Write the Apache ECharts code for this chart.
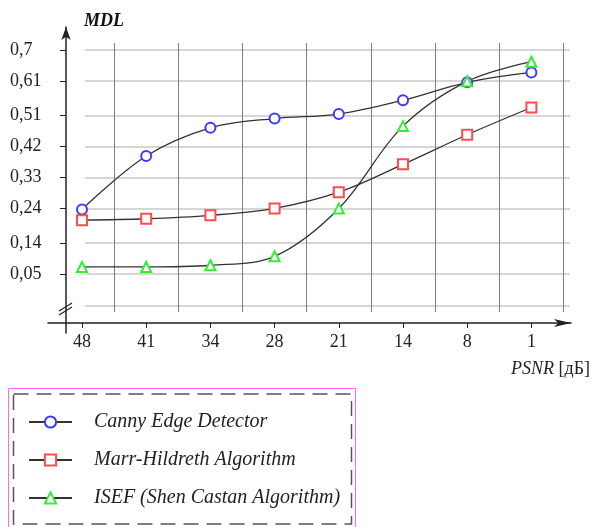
<!DOCTYPE html>
<html>
<head>
<meta charset="utf-8">
<script src="https://cdn.jsdelivr.net/npm/echarts@6/dist/echarts.min.js"></script>
<style>html,body{margin:0;padding:0;background:#fff;}#c{width:593px;height:527px;}</style>
</head>
<body>
<div id="c"></div>
<script>
// ---- data ----
const categories = ['48', '41', '34', '28', '21', '14', '8', '1'];
const yTickLabels = ['0,05', '0,14', '0,24', '0,33', '0,42', '0,51', '0,61', '0,7'];
const yExtraGrid = -0.043; // unlabeled grid line below 0,05 (broken axis)
const canny = [0.237, 0.392, 0.474, 0.501, 0.514, 0.554, 0.606, 0.635];
const marr  = [0.206, 0.210, 0.220, 0.240, 0.287, 0.368, 0.454, 0.533];
const isef  = [0.070, 0.070, 0.075, 0.101, 0.240, 0.479, 0.609, 0.666];
const seriesNames = ['Canny Edge Detector', 'Marr-Hildreth Algorithm', 'ISEF (Shen Castan Algorithm)'];
const xName = 'PSNR';
const xUnit = '[дБ]';
const yName = 'MDL';

// ---- layout helpers (pixel <-> value mapping) ----
const Y_REF_VAL = 0.7, Y_REF_PX = 50, PX_PER_UNIT = 344.4;
const X0_PX = 82, X_STEP = 64.2;
const valAt = px => Y_REF_VAL - (px - Y_REF_PX) / PX_PER_UNIT;
const idxAt = px => (px - X0_PX) / X_STEP;

const yTickVals = yTickLabels.map(s => parseFloat(s.replace(',', '.')));
const xIdx = categories.map((_, i) => i);
const xBounds = categories.map((_, i) => i + 0.5);
const FONT = 'Liberation Serif, Times New Roman, serif';

// data grid
const G0 = {left: 48, right: 571, top: 27, bottom: 333};
// grid-lines grid
const G1 = {left: 85, right: 570, top: 43, bottom: 312};

const toPairs = arr => arr.map((v, i) => [i, v]);

const chart = echarts.init(document.getElementById('c'), null, {renderer: 'canvas'});
const lineCol = '#333';
const mk = (name, data, symbol, color) => ({
  name, type: 'line', data: toPairs(data), xAxisIndex: 0, yAxisIndex: 0,
  smooth: 0.35, symbol, symbolSize: 10,
  lineStyle: {color: lineCol, width: 1.3},
  itemStyle: {color: color, borderColor: color, borderWidth: 1.5},
  emphasis: {disabled: true}, z: 3
});

chart.setOption({
  animation: false,
  backgroundColor: '#fff',
  textStyle: {fontFamily: FONT},
  grid: [
    {left: G0.left, top: G0.top, width: G0.right - G0.left, height: G0.bottom - G0.top, containLabel: false, outerBoundsMode: 'none'},
    {left: G1.left, top: G1.top, width: G1.right - G1.left, height: G1.bottom - G1.top, containLabel: false, outerBoundsMode: 'none'}
  ],
  xAxis: [
    {
      type: 'value', gridIndex: 0, min: idxAt(G0.left), max: idxAt(G0.right), offset: -10,
      axisLine: {show: true, onZero: false, lineStyle: {color: '#222', width: 1.5}, symbol: ['none', 'arrow'], symbolSize: [6, 17]},
      axisTick: {show: true, customValues: xIdx, length: 5, lineStyle: {color: '#222', width: 1}},
      axisLabel: {show: true, customValues: xIdx, margin: 10, color: '#222', fontSize: 18, fontFamily: FONT,
        formatter: v => categories[Math.round(v)]},
      splitLine: {show: false},
      name: '{i|' + xName + '} ' + xUnit, nameLocation: 'end', nameGap: 19, nameMoveOverlap: false,
      nameTextStyle: {align: 'right', verticalAlign: 'top', padding: [37, 0, 0, 0], color: '#222', fontSize: 18, fontFamily: FONT,
        rich: {i: {fontStyle: 'italic', fontSize: 18, fontFamily: FONT, color: '#222'}}}
    },
    {
      type: 'value', gridIndex: 1, min: idxAt(G1.left), max: idxAt(G1.right),
      axisLine: {show: false}, axisLabel: {show: false},
      axisTick: {show: false, customValues: xBounds},
      splitLine: {show: true, customValues: xBounds, lineStyle: {color: '#808080', width: 1}}
    }
  ],
  yAxis: [
    {
      type: 'value', gridIndex: 0, min: valAt(G0.bottom), max: valAt(G0.top), offset: -18,
      axisLine: {show: true, onZero: false, lineStyle: {color: '#222', width: 1.5}, symbol: ['none', 'arrow'], symbolSize: [7, 13]},
      axisTick: {show: true, customValues: yTickVals, length: 6, lineStyle: {color: '#222', width: 1}},
      axisLabel: {show: true, customValues: yTickVals, margin: 56, align: 'left', color: '#222', fontSize: 18, fontFamily: FONT,
        formatter: v => { const k = yTickVals.findIndex(t => Math.abs(t - v) < 1e-9); return k >= 0 ? yTickLabels[k] : ''; }},
      splitLine: {show: false},
      name: yName, nameLocation: 'end', nameGap: -3, nameMoveOverlap: false,
      nameTextStyle: {align: 'left', padding: [0, 0, 0, 18], fontStyle: 'italic', fontWeight: 'bold', fontSize: 18, color: '#111', fontFamily: FONT}
    },
    {
      type: 'value', gridIndex: 1, min: valAt(G1.bottom), max: valAt(G1.top),
      axisLine: {show: false}, axisLabel: {show: false},
      axisTick: {show: false, customValues: [yExtraGrid].concat(yTickVals)},
      splitLine: {show: true, customValues: [yExtraGrid].concat(yTickVals), lineStyle: {color: '#c8c8c8', width: 1.5}}
    }
  ],
  legend: {
    orient: 'vertical', left: 28, top: 412, padding: 0,
    itemWidth: 43, itemHeight: 14, itemGap: 18,
    data: seriesNames,
    textStyle: {fontFamily: FONT, fontStyle: 'italic', fontSize: 20, lineHeight: 20, color: '#222', padding: [0, 0, 0, 17]},
    selectedMode: false
  },
  series: [
    mk(seriesNames[0], canny, 'emptyCircle', '#3b3bff'),
    mk(seriesNames[1], marr, 'emptyRect', '#ff4d4d'),
    mk(seriesNames[2], isef, 'emptyTriangle', '#33ee33')
  ],
  graphic: [
    {type: 'rect', silent: true, shape: {x: 8.5, y: 388.5, width: 347, height: 145},
      style: {fill: 'none', stroke: '#ff66ff', lineWidth: 1}},
    {type: 'rect', silent: true, shape: {x: 13.5, y: 394, width: 338, height: 130},
      style: {fill: 'none', stroke: '#555', lineWidth: 1.5, lineDash: [15, 8]}},
    {type: 'line', silent: true, shape: {x1: 59, y1: 311, x2: 72, y2: 303}, style: {stroke: '#222', lineWidth: 1.3}},
    {type: 'line', silent: true, shape: {x1: 59, y1: 315, x2: 72, y2: 307}, style: {stroke: '#222', lineWidth: 1.3}}
  ]
});
</script>
</body>
</html>
